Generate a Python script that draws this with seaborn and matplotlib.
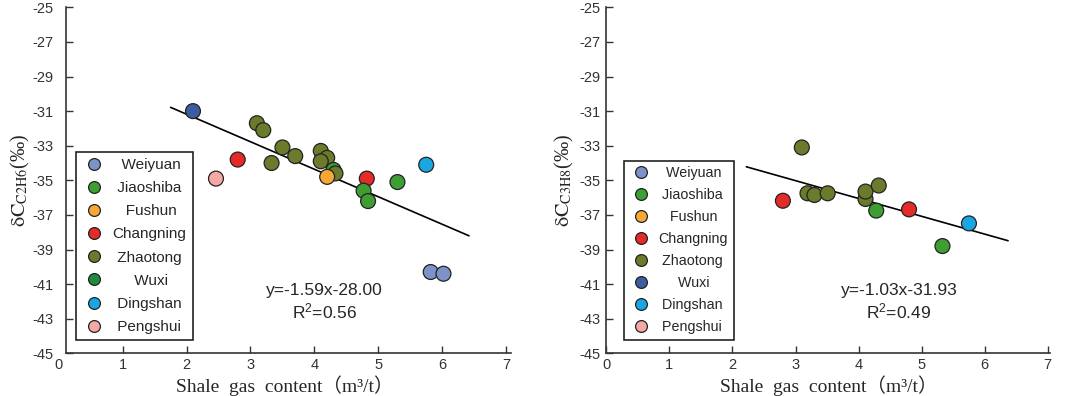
import numpy as np
import pandas as pd
import seaborn as sns
import matplotlib.pyplot as plt
from matplotlib.lines import Line2D

# legend order
sites = ["Weiyuan", "Jiaoshiba", "Fushun", "Changning", "Zhaotong", "Wuxi", "Dingshan", "Pengshui"]

# left panel: ethane
site_c2 = ["Wuxi", "Zhaotong", "Zhaotong", "Zhaotong", "Zhaotong", "Zhaotong",
           "Zhaotong", "Zhaotong", "Zhaotong", "Jiaoshiba", "Zhaotong",
           "Changning", "Changning", "Pengshui", "Jiaoshiba", "Jiaoshiba",
           "Jiaoshiba", "Fushun", "Dingshan", "Weiyuan", "Weiyuan"]
gas_c2 = [2.10, 3.10, 3.20, 3.50, 3.70, 3.33, 4.10, 4.20, 4.10, 4.30, 4.33,
          2.80, 4.82, 2.46, 4.77, 4.84, 5.30, 4.20, 5.75, 5.82, 6.02]
d13_c2 = [-31.0, -31.7, -32.1, -33.1, -33.6, -34.0, -33.3, -33.7, -33.9, -34.4, -34.6,
          -33.8, -34.9, -34.9, -35.6, -36.2, -35.1, -34.8, -34.1, -40.3, -40.4]

# right panel: propane
site_c3 = ["Zhaotong", "Zhaotong", "Zhaotong", "Zhaotong", "Zhaotong", "Zhaotong", "Zhaotong",
           "Changning", "Changning", "Jiaoshiba", "Jiaoshiba", "Dingshan"]
gas_c3 = [3.10, 3.19, 3.30, 3.51, 4.11, 4.11, 4.32, 2.80, 4.80, 4.28, 5.33, 5.75]
d13_c3 = [-33.1, -35.75, -35.85, -35.75, -36.08, -35.65, -35.3,
          -36.18, -36.68, -36.75, -38.8, -37.49]

# fitted lines (from the printed equations)
slope = [-1.59, -1.03]
intercept = [-28.00, -31.93]
r2 = [0.56, 0.49]
fit_range = [(1.75, 6.42), (2.22, 6.37)]

point_colors = {"Weiyuan": "#7d92c8", "Jiaoshiba": "#3e9e34", "Fushun": "#f8a832",
                "Changning": "#e52b27", "Zhaotong": "#6a7b2b", "Wuxi": "#3c5da0",
                "Dingshan": "#1aa6e2", "Pengshui": "#f6a8a6"}
# the left legend shows Wuxi in green
legend_colors = [dict(point_colors, Wuxi="#1f8b3b"), point_colors]

sns.set_theme(style="ticks")
plt.rcParams["font.family"] = ["Liberation Sans", "DejaVu Sans"]
plt.rcParams["mathtext.fontset"] = "stix"
plt.rcParams["axes.unicode_minus"] = False

fig = plt.figure(figsize=(10.65, 3.96), dpi=100)
ax1 = fig.add_axes([0.0552, 0.1078, 0.4248, 0.8737])
ax2 = fig.add_axes([0.5693, 0.1078, 0.4169, 0.8737])

panels = [
    dict(ax=ax1, df=pd.DataFrame({"site": site_c2, "gas": gas_c2, "d13": d13_c2}),
         gas="C2H6", xmin=0.11, xmax=7.08, eq_x=4.16, leg_x=0.038, leg_fs=11,
         leg_sp=0.6, ypad=9, ylpad=0),
    dict(ax=ax2, df=pd.DataFrame({"site": site_c3, "gas": gas_c3, "d13": d13_c3}),
         gas="C3H8", xmin=0.0, xmax=7.04, eq_x=4.64, leg_x=0.040, leg_fs=10.3,
         leg_sp=0.56, ypad=4.5, ylpad=2),
]

legends = []
for i, p in enumerate(panels):
    ax = p["ax"]
    sns.scatterplot(data=p["df"], x="gas", y="d13", hue="site", palette=point_colors,
                    s=115, edgecolor="#222222", linewidth=0.9, legend=False, ax=ax, zorder=3)

    xr = np.array(fit_range[i])
    ax.plot(xr, slope[i] * xr + intercept[i], color="black", lw=1.2, zorder=2)

    ax.text(p["eq_x"], -42.05,
            f"y={slope[i]:.2f}x{intercept[i]:.2f}\n" + r"R$\mathregular{^2}$" + f"={r2[i]:.2f}",
            ha="center", va="center", fontsize=12.5, linespacing=1.25)

    ax.set_xlim(0, p["xmax"])
    ax.set_ylim(-45, -25)
    ax.set_xticks(range(0, 8))
    ax.set_yticks(range(-45, -24, 2))
    ax.tick_params(direction="in", length=5, width=1, labelsize=10.5,
                   color="#333333", labelcolor="#333333")
    ax.tick_params(axis="y", pad=p["ypad"])
    for side in ["left", "bottom"]:
        ax.spines[side].set_linewidth(1.2)
        ax.spines[side].set_color("#333333")
    sns.despine(ax=ax)
    ax.spines["left"].set_position(("data", p["xmin"]))
    ax.spines["bottom"].set_bounds(p["xmin"], p["xmax"])
    if p["xmin"] > 0:
        ax.xaxis.get_major_ticks()[0].tick1line.set_visible(False)

    ax.set_xlabel("Shale  gas  content（m³/t）", fontsize=14,
                  fontfamily=["Liberation Serif", "Noto Sans CJK SC"], labelpad=2)
    ax.set_ylabel(r"$\mathrm{δC}_{\mathrm{" + p["gas"] + r"}}$(‰)", fontsize=14.5,
                  fontfamily=["Liberation Serif", "DejaVu Serif"], labelpad=p["ylpad"])

    handles = [Line2D([], [], marker="o", ls="", markersize=8.5,
                      markerfacecolor=legend_colors[i][s], markeredgecolor="#222222",
                      markeredgewidth=0.9) for s in sites]
    leg = ax.legend(handles, sites, loc="lower left", bbox_to_anchor=(p["leg_x"], 0.038),
                    borderaxespad=0, fontsize=p["leg_fs"], labelspacing=p["leg_sp"],
                    handletextpad=0.5, handlelength=1.5, borderpad=0.4,
                    fancybox=False, framealpha=1)
    leg.get_frame().set_edgecolor("#222222")
    leg.get_frame().set_linewidth(1.2)
    legends.append(leg)

# centre the legend labels in their column by padding with spaces
fig.canvas.draw()
renderer = fig.canvas.get_renderer()
for leg in legends:
    texts = leg.get_texts()
    fs = texts[0].get_fontsize()
    probe = fig.text(0, 0, "x x", fontsize=fs)
    w_sp = probe.get_window_extent(renderer).width
    probe.set_text("xx")
    w_sp -= probe.get_window_extent(renderer).width
    probe.remove()
    widths = [t.get_window_extent(renderer).width for t in texts]
    w_max = max(widths)
    for t, w in zip(texts, widths):
        n = int(round((w_max - w) / 2 / w_sp))
        t.set_text(" " * n + t.get_text())

fig.savefig("out.png", dpi=100)
